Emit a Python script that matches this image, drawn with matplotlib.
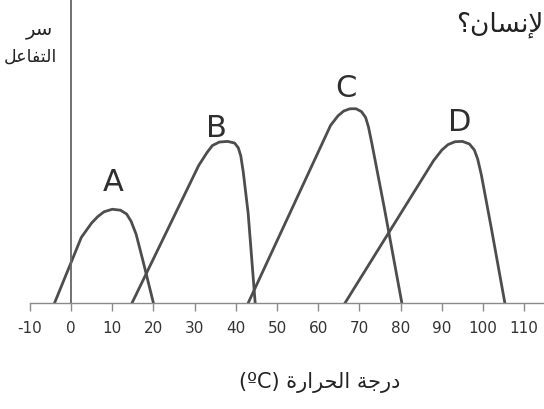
import matplotlib.pyplot as plt
import numpy as np

# temperature (C) / relative reaction rate
temp_a = [-4, 2.5, 5, 6.5, 8, 10, 12, 13.5, 14.6, 15.8, 17.5, 20]
rate_a = [0, 2.05, 2.5, 2.7, 2.85, 2.93, 2.9, 2.78, 2.55, 2.15, 1.3, 0]

temp_b = [14.8, 31, 33, 34.3, 36, 38, 39.7, 40.6, 41.2, 41.8, 43, 44.7]
rate_b = [0, 4.3, 4.7, 4.92, 5.03, 5.05, 5.0, 4.85, 4.6, 4.1, 2.8, 0]

temp_c = [43, 63, 64.8, 66.2, 67.7, 69.2, 70.5, 71.5, 72.2, 73, 76, 80.3]
rate_c = [0, 5.55, 5.85, 6.0, 6.07, 6.07, 5.98, 5.8, 5.5, 5.0, 3.0, 0]

temp_d = [66.5, 88, 90, 91.5, 93.2, 95, 96.7, 97.9, 98.7, 99.6, 102, 105.3]
rate_d = [0, 4.45, 4.78, 4.95, 5.04, 5.05, 4.97, 4.78, 4.5, 4.0, 2.35, 0]

curve_names = ['A', 'B', 'C', 'D']
label_x = [10.2, 35.2, 66.8, 94.4]
label_y = [3.8, 5.5, 6.72, 5.68]

xticks = np.arange(-10, 111, 10)
xtick_labels = [str(t) for t in xticks]

# arabic text, written in visual order with presentation forms
xlabel_ar = '(\u00baC) \uFE93\uFEAD\uFE8D\uFEAE\uFEA4\uFEDF\uFE8D \uFE94\uFE9F\uFEAD\uFEA9'
ylabel_1 = '\uFEAE\uFEB3'
ylabel_2 = '\uFEDE\uFECB\uFE8E\uFED4\uFE98\uFEDF\uFE8D'
top_txt = '\u061F\uFEE5\uFE8E\uFEB4\uFEE7\uFEF9'

fig = plt.figure(figsize=(5.44, 4.10), dpi=100)

ax = fig.add_axes([0.0548, 0.2585, 0.9452, 0.7415])
ax.set_xlim(-10, 114.8)
ax.set_ylim(0, 9.5)

line_col = '#4d4d4d'
for tx, ry in [(temp_a, rate_a), (temp_b, rate_b), (temp_c, rate_c), (temp_d, rate_d)]:
    ax.plot(tx, ry, color=line_col, lw=2.0, solid_joinstyle='round')

for name, lx, ly in zip(curve_names, label_x, label_y):
    ax.text(lx, ly, name, fontsize=22, color='#2e2e2e', ha='center', va='center',
            family='DejaVu Sans')

ax.spines['top'].set_visible(False)
ax.spines['right'].set_visible(False)
ax.spines['left'].set_position(('data', 0))
ax.spines['left'].set_color('#666666')
ax.spines['left'].set_linewidth(1.3)
ax.spines['bottom'].set_color('#8a8a8a')
ax.spines['bottom'].set_linewidth(1.0)
ax.set_yticks([])
ax.set_xticks(xticks)
ax.set_xticklabels(xtick_labels)
ax.tick_params(axis='x', direction='out', length=6, width=1, color='#8a8a8a',
               labelsize=11, labelcolor='#333333', pad=6)

fig.text(0.588, 0.066, xlabel_ar, fontsize=15, color='#222222', ha='center',
         va='center', family='DejaVu Sans')
fig.text(0.098, 0.928, ylabel_1, fontsize=14, color='#222222', ha='right',
         va='center', family='DejaVu Sans')
fig.text(0.105, 0.862, ylabel_2, fontsize=12.5, color='#222222', ha='right',
         va='center', family='DejaVu Sans')
fig.text(1.0, 0.94, top_txt, fontsize=19, color='#222222', ha='right',
         va='center', family='DejaVu Sans')

fig.savefig('out.png', dpi=100)
